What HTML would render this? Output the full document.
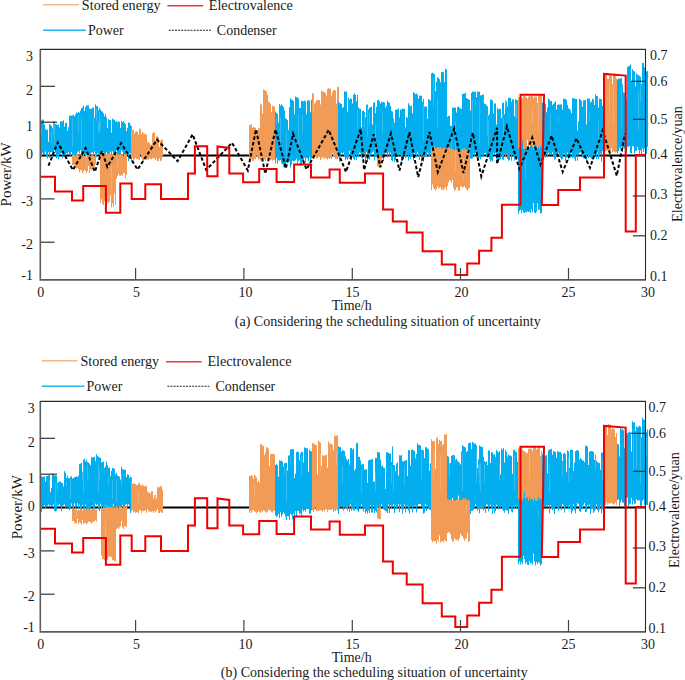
<!DOCTYPE html>
<html><head><meta charset="utf-8"><style>html,body{margin:0;padding:0;background:#fff;width:685px;height:680px;overflow:hidden}svg{display:block}text{fill:#1a1a1a}</style></head>
<body><svg width="685" height="680" viewBox="0 0 685 680">
<rect width="685" height="680" fill="#fff"/>
<path d="M40 155.5H646" stroke="#000" stroke-width="2"/>
<path d="M41.5 120.5V157.5M42.5 119.5V152.8M43.5 119.7V153.9M44.5 124.5V153.9M45.5 129.1V151.5M46.5 129.9V157.0M47.5 129.6V158.4M48.5 141.8V152.4M49.5 124.0V158.0M50.5 124.8V152.3M51.5 125.8V152.1M52.5 128.1V158.0M53.5 121.2V154.0M54.5 121.0V150.5M55.5 124.2V152.8M56.5 124.3V158.3M57.5 125.1V155.7M58.5 124.6V159.3M59.5 127.4V155.0M60.5 121.3V153.8M61.5 121.4V152.9M62.5 121.4V158.0M63.5 120.4V154.3M64.5 126.6V155.2M65.5 122.8V159.0M66.5 122.8V153.0M67.5 130.8V154.6M68.5 127.3V151.8M69.5 115.8V155.1M70.5 115.5V155.7M71.5 115.6V152.0M72.5 115.5V158.9M73.5 114.7V157.8M74.5 116.3V157.1M75.5 114.6V155.8M76.5 112.5V153.9M77.5 113.1V152.7M78.5 111.8V151.2M79.5 112.8V153.4M80.5 110.6V150.0M81.5 108.0V156.6M82.5 107.4V153.4M83.5 105.5V156.7M84.5 111.1V155.0M85.5 107.1V158.2M86.5 105.2V154.9M87.5 105.7V155.6M88.5 105.3V156.9M89.5 108.7V155.9M90.5 109.1V153.8M91.5 108.7V152.8M92.5 107.8V152.3M93.5 107.5V158.5M94.5 117.6V151.5M95.5 104.4V155.6M96.5 106.2V157.2M97.5 106.2V153.2M98.5 110.3V153.9M99.5 108.0V154.0M100.5 109.5V158.0M101.5 111.2V154.5M102.5 111.6V151.8M103.5 113.3V152.4M104.5 116.4V156.4M105.5 113.9V155.4M106.5 117.4V152.3M107.5 127.9V155.6M108.5 118.9V155.5M109.5 120.0V156.1M110.5 120.0V151.6M111.5 132.6V159.6M112.5 118.6V151.4M113.5 119.4V154.4M114.5 119.9V154.9M115.5 121.6V153.4M116.5 121.0V150.3M117.5 122.2V155.7M118.5 121.5V158.3M119.5 121.8V157.8M120.5 127.9V155.1M121.5 120.8V150.4M122.5 122.3V151.8M123.5 121.2V154.0M124.5 122.7V156.6M125.5 124.1V155.5M126.5 131.1V153.5M127.5 127.8V154.4M128.5 122.6V161.1M129.5 122.7V153.3M130.5 125.0V153.5M131.5 126.3V161.9" stroke="#02aeee" stroke-width="1" fill="none"/>
<path d="M41.5 128.8V135.9M51.5 131.2V143.6M53.5 122.1V135.1M54.5 123.9V145.1M72.5 119.0V146.6M78.5 114.9V133.3M81.5 118.3V149.7M93.5 117.1V148.0M96.5 109.0V121.2M98.5 121.9V131.6M99.5 111.8V133.9M100.5 121.4V129.6" stroke="#55c8f3" stroke-width="0.6" fill="none"/>
<path d="M72.5 155.2V165.3M73.5 154.6V165.1M74.5 154.8V165.2M75.5 155.5V166.4M76.5 154.6V168.6M77.5 154.6V167.9M78.5 155.2V169.2M79.5 155.4V172.4M80.5 155.6V170.2M81.5 156.1V169.9M82.5 155.7V173.0M83.5 155.7V171.5M84.5 156.2V169.8M85.5 156.0V170.8M86.5 154.9V172.9M87.5 154.6V171.1M88.5 156.0V165.9M89.5 155.7V173.1M90.5 156.7V169.0M91.5 155.2V170.6M92.5 155.1V169.3M93.5 155.7V167.8M94.5 156.6V167.1M95.5 153.6V164.2" stroke="#f29b57" stroke-width="1" fill="none"/>
<path d="M86.5 155.0V166.7M93.5 158.6V164.2" stroke="#f6bd8b" stroke-width="0.6" fill="none"/>
<path d="M100.5 153.8V202.8M101.5 153.9V199.3M102.5 154.9V203.8M103.5 154.6V205.3M104.5 154.0V201.1M105.5 154.3V204.1M106.5 154.3V205.5M107.5 153.8V202.5M108.5 153.8V203.4M109.5 154.1V201.6M110.5 154.1V195.2M111.5 154.6V207.5M112.5 154.1V203.5M113.5 153.8V206.8M114.5 154.4V193.5M115.5 154.6V204.9M116.5 154.0V178.8M117.5 154.4V176.1M118.5 154.5V173.8M119.5 154.9V175.6M120.5 154.2V175.9M121.5 154.5V175.1M122.5 154.5V175.9M123.5 155.7V172.9M124.5 154.1V173.5M125.5 154.0V178.3M126.5 154.0V174.9" stroke="#f29b57" stroke-width="1" fill="none"/>
<path d="M111.5 166.4V192.3M117.5 160.5V168.4" stroke="#f6bd8b" stroke-width="0.6" fill="none"/>
<path d="M131.5 129.1V159.1M132.5 129.7V158.1M133.5 129.4V160.6M134.5 133.8V159.2M135.5 131.6V157.8M136.5 131.2V159.3M137.5 131.8V158.5M138.5 134.7V159.3M139.5 128.5V160.1M140.5 129.4V154.3M141.5 134.1V158.1M142.5 132.1V160.1M143.5 133.3V161.0M144.5 133.8V158.4M145.5 134.6V159.2M146.5 134.3V158.2" stroke="#f29b57" stroke-width="1" fill="none"/>
<path d="M131.5 132.2V137.0" stroke="#f6bd8b" stroke-width="0.6" fill="none"/>
<path d="M146.5 141.7V159.8M147.5 142.1V159.3M148.5 142.2V160.1M149.5 143.1V158.1M150.5 144.9V158.8M151.5 144.6V159.5M152.5 133.5V158.3M153.5 132.2V158.3M154.5 132.4V158.1M155.5 140.2V160.3M156.5 136.2V158.2M157.5 136.3V161.0M158.5 137.0V161.2M159.5 146.9V158.6M160.5 140.8V161.1M161.5 139.6V160.5M162.5 139.8V156.2" stroke="#f29b57" stroke-width="1" fill="none"/>
<path d="M249.5 124.9V158.5M250.5 124.9V158.7M251.5 124.2V158.9M252.5 127.8V161.1M253.5 126.8V160.9M254.5 127.6V158.7M255.5 127.7V159.3M256.5 131.7V155.6M257.5 130.6V157.7M258.5 127.5V159.7M259.5 128.5V159.0M260.5 130.0V160.7" stroke="#f29b57" stroke-width="1" fill="none"/>
<path d="M260.5 103.5V158.3M261.5 104.6V156.3M262.5 113.9V160.7M263.5 89.5V159.8M264.5 90.1V159.7M265.5 90.6V161.1M266.5 91.4V158.0M267.5 94.7V160.4M268.5 101.7V159.0M269.5 102.6V158.8M270.5 103.6V160.2M271.5 111.8V159.5M272.5 105.7V160.7M273.5 106.0V159.8M274.5 106.7V160.0" stroke="#f29b57" stroke-width="1" fill="none"/>
<path d="M275.5 111.6V163.2M276.5 112.9V158.0M277.5 113.7V163.6M278.5 122.5V160.4M279.5 104.1V160.7M280.5 105.5V160.0M281.5 104.3V163.7M282.5 105.6V163.9M283.5 107.1V167.1M284.5 110.4V167.4M285.5 118.2V167.9M286.5 118.9V162.6M287.5 120.1V163.4M288.5 130.1V162.4M289.5 107.1V161.4M290.5 108.8V167.6" stroke="#02aeee" stroke-width="1" fill="none"/>
<path d="M276.5 119.2V124.5M280.5 116.9V147.8M286.5 131.1V158.5" stroke="#55c8f3" stroke-width="0.6" fill="none"/>
<path d="M290.5 98.3V165.0M291.5 99.4V164.8M292.5 100.1V160.6M293.5 100.9V161.3M294.5 114.3V161.2M295.5 96.6V160.3M296.5 97.3V158.7M297.5 97.4V164.2M298.5 98.4V160.9M299.5 107.9V159.9M300.5 107.8V165.9M301.5 100.7V164.7M302.5 101.0V161.0M303.5 101.4V163.1M304.5 100.4V157.8M305.5 101.5V162.4M306.5 114.2V157.8M307.5 100.4V158.8M308.5 100.3V161.0M309.5 100.6V157.3M310.5 112.2V163.0M311.5 99.8V158.2" stroke="#02aeee" stroke-width="1" fill="none"/>
<path d="M298.5 114.0V152.1M302.5 115.3V132.6" stroke="#55c8f3" stroke-width="0.6" fill="none"/>
<path d="M312.5 93.1V157.8M313.5 93.6V158.6M314.5 103.7V158.6M315.5 102.5V157.0M316.5 100.0V158.8M317.5 100.3V158.2M318.5 99.9V157.2M319.5 100.1V157.1M320.5 104.4V160.0M321.5 90.3V158.6M322.5 91.6V157.1M323.5 91.5V158.1M324.5 92.1V158.5M325.5 93.0V157.7M326.5 95.8V158.8M327.5 89.2V159.6M328.5 88.1V157.9M329.5 88.6V159.1M330.5 88.5V158.0M331.5 95.6V159.0M332.5 91.9V153.4M333.5 90.0V157.2M334.5 89.7V156.1M335.5 90.6V159.1M336.5 103.6V159.0M337.5 86.5V159.2M338.5 87.2V157.7" stroke="#f29b57" stroke-width="1" fill="none"/>
<path d="M313.5 102.7V112.3" stroke="#f6bd8b" stroke-width="0.6" fill="none"/>
<path d="M338.5 101.6V156.6M339.5 102.7V161.6M340.5 103.5V155.9M341.5 104.2V152.8M342.5 108.1V153.7M343.5 107.0V152.6M344.5 91.1V156.4M345.5 91.9V160.0M346.5 91.5V158.3M347.5 111.7V159.9M348.5 97.4V157.7M349.5 99.7V151.1M350.5 98.3V155.3M351.5 98.8V160.3M352.5 103.5V156.3M353.5 94.6V158.8M354.5 93.7V160.1M355.5 95.0V154.7M356.5 101.4V160.2M357.5 94.7V151.8" stroke="#02aeee" stroke-width="1" fill="none"/>
<path d="M357.5 108.4V153.8M358.5 107.4V156.6M359.5 108.7V152.6M360.5 108.9V153.2M361.5 127.4V157.6M362.5 111.0V158.7M363.5 110.7V153.6M364.5 112.1V154.2M365.5 117.1V161.0M366.5 104.6V152.1M367.5 104.6V161.9M368.5 109.5V158.8M369.5 107.5V159.6M370.5 107.4V156.8M371.5 106.4V153.4M372.5 124.5V152.4M373.5 102.9V151.4M374.5 102.1V160.7M375.5 113.1V156.5M376.5 106.8V156.5M377.5 106.2V156.8" stroke="#02aeee" stroke-width="1" fill="none"/>
<path d="M357.5 109.1V128.3M364.5 115.4V128.3M367.5 107.1V137.0M369.5 112.6V124.6M375.5 125.2V151.1" stroke="#55c8f3" stroke-width="0.6" fill="none"/>
<path d="M377.5 100.1V153.8M378.5 100.0V154.3M379.5 101.2V160.3M380.5 103.5V159.6M381.5 101.6V158.7M382.5 102.3V155.1M383.5 102.0V161.2M384.5 102.5V154.8M385.5 107.5V152.9M386.5 105.8V153.3M387.5 100.6V157.6M388.5 102.0V152.5M389.5 102.9V155.6M390.5 106.1V152.7M391.5 110.8V160.3M392.5 111.6V160.7" stroke="#02aeee" stroke-width="1" fill="none"/>
<path d="M382.5 113.2V133.7" stroke="#55c8f3" stroke-width="0.6" fill="none"/>
<path d="M392.5 118.9V161.4M393.5 118.5V154.4M394.5 122.6V161.8M395.5 109.6V160.2M396.5 109.8V153.4M397.5 109.3V154.5M398.5 108.6V155.6M399.5 117.4V153.8M400.5 109.5V155.3M401.5 109.5V161.4M402.5 108.4V160.8M403.5 109.0V152.8M404.5 108.7V154.7M405.5 127.4V158.2M406.5 116.9V156.3M407.5 117.9V155.1M408.5 118.2V157.9" stroke="#02aeee" stroke-width="1" fill="none"/>
<path d="M408.5 103.2V160.6M409.5 104.9V154.7M410.5 106.4V159.0M411.5 105.7V156.1M412.5 113.4V156.0M413.5 92.1V160.5M414.5 93.1V153.1M415.5 94.2V154.9M416.5 93.4V157.3M417.5 94.7V152.1M418.5 98.7V155.8M419.5 95.6V160.0M420.5 95.8V154.3M421.5 95.6V161.7M422.5 101.8V155.3M423.5 99.0V161.6M424.5 106.6V157.4M425.5 106.5V156.4M426.5 106.5V156.3M427.5 118.7V152.6M428.5 99.0V155.7M429.5 99.8V157.0M430.5 100.4V153.5" stroke="#02aeee" stroke-width="1" fill="none"/>
<path d="M423.5 103.8V141.4" stroke="#55c8f3" stroke-width="0.6" fill="none"/>
<path d="M431.5 73.4V161.0M432.5 72.6V152.2M433.5 73.5V152.1M434.5 74.0V157.1M435.5 91.1V154.9M436.5 81.6V158.2M437.5 77.4V153.7M438.5 77.7V155.5M439.5 79.2V150.5M440.5 82.4V155.4M441.5 72.0V151.4M442.5 72.2V154.1M443.5 72.2V154.0M444.5 82.1V156.0M445.5 68.6V154.9M446.5 69.7V154.1" stroke="#02aeee" stroke-width="1" fill="none"/>
<path d="M433.5 77.5V106.1M437.5 98.1V128.7" stroke="#55c8f3" stroke-width="0.6" fill="none"/>
<path d="M446.5 117.0V154.0M447.5 116.9V159.6M448.5 115.9V161.0M449.5 115.7V160.9M450.5 125.8V156.1M451.5 125.6V157.8M452.5 107.5V151.3M453.5 107.8V151.2M454.5 107.4V158.8M455.5 107.6V159.9M456.5 112.5V152.9M457.5 107.1V153.9M458.5 106.5V154.6M459.5 107.9V157.3M460.5 108.2V160.4M461.5 109.1V159.0M462.5 115.7V151.3" stroke="#02aeee" stroke-width="1" fill="none"/>
<path d="M451.5 133.8V152.0M455.5 121.9V151.2" stroke="#55c8f3" stroke-width="0.6" fill="none"/>
<path d="M462.5 94.0V159.8M463.5 93.8V161.5M464.5 93.6V153.7M465.5 92.8V154.4M466.5 98.2V153.7M467.5 98.7V158.4M468.5 99.1V156.9M469.5 100.0V152.1M470.5 110.6V158.4M471.5 92.9V159.1M472.5 91.4V158.3M473.5 91.8V153.5M474.5 91.7V156.1M475.5 91.7V152.1M476.5 97.2V151.5M477.5 91.5V155.1M478.5 91.9V156.5M479.5 91.5V157.6M480.5 95.4V159.5M481.5 95.3V154.6M482.5 94.7V156.9M483.5 94.5V155.6" stroke="#02aeee" stroke-width="1" fill="none"/>
<path d="M472.5 99.9V141.7M479.5 100.8V143.6M483.5 99.8V126.2" stroke="#55c8f3" stroke-width="0.6" fill="none"/>
<path d="M483.5 102.6V153.8M484.5 103.9V153.1M485.5 104.0V152.9M486.5 105.3V156.9M487.5 106.4V157.7M488.5 115.5V156.1M489.5 113.9V159.1M490.5 99.5V161.9M491.5 99.6V160.3M492.5 100.6V161.6M493.5 113.3V153.4M494.5 103.4V154.8M495.5 103.4V153.0M496.5 124.4V159.1M497.5 107.8V158.2M498.5 109.4V161.2M499.5 108.9V159.5M500.5 108.8V158.8M501.5 117.8V155.7M502.5 102.8V159.2M503.5 102.7V160.0M504.5 114.2V153.9M505.5 100.5V157.8M506.5 101.5V153.9M507.5 106.4V158.9M508.5 97.7V160.8M509.5 97.7V160.1M510.5 98.1V154.3M511.5 101.7V160.7M512.5 99.3V155.1M513.5 99.4V155.9M514.5 116.2V160.5M515.5 99.2V158.1M516.5 100.0V157.9M517.5 100.3V157.8" stroke="#02aeee" stroke-width="1" fill="none"/>
<path d="M487.5 114.3V136.4M488.5 120.9V145.9M502.5 113.0V120.4M503.5 118.6V145.9M505.5 100.9V108.7M515.5 105.0V116.7M516.5 103.0V119.5" stroke="#55c8f3" stroke-width="0.6" fill="none"/>
<path d="M377.5 155.0V166.1M378.5 155.3V166.9M379.5 155.5V167.1M380.5 155.3V166.2" stroke="#f29b57" stroke-width="1" fill="none"/>
<path d="M431.5 147.2V190.0M432.5 148.3V184.4M433.5 148.3V187.7M434.5 146.7V189.3M435.5 148.4V190.7M436.5 147.9V189.0M437.5 147.0V186.2M438.5 148.2V188.6M439.5 147.3V187.7M440.5 147.1V187.2M441.5 148.3V189.9M442.5 148.1V189.0M443.5 148.5V190.5M444.5 147.7V188.6M445.5 148.9V187.2M446.5 148.8V190.3M447.5 148.7V186.2M448.5 147.3V182.4M449.5 148.0V180.0M450.5 148.4V180.9M451.5 149.1V182.6M452.5 148.9V179.9M453.5 149.1V187.7M454.5 149.8V190.4M455.5 150.0V190.1M456.5 149.8V187.7M457.5 148.4V187.3M458.5 148.8V190.7M459.5 149.0V190.5M460.5 152.1V186.7M461.5 149.5V186.0M462.5 148.9V187.5M463.5 149.5V187.0M464.5 148.3V186.2M465.5 149.6V188.1M466.5 149.2V189.3M467.5 149.8V190.4M468.5 149.1V188.4M469.5 147.9V188.2" stroke="#f29b57" stroke-width="1" fill="none"/>
<path d="M455.5 150.3V171.3M463.5 158.3V181.5" stroke="#f6bd8b" stroke-width="0.6" fill="none"/>
<path d="M518.5 138.1V213.8M519.5 138.2V211.0M520.5 140.2V209.7M521.5 140.9V212.9M522.5 137.0V210.1M523.5 136.1V212.3M524.5 136.9V213.0M525.5 144.3V212.0M526.5 145.3V212.3M527.5 146.2V211.2M528.5 146.9V212.1M529.5 147.8V211.6M530.5 139.0V212.8M531.5 139.4V209.3M532.5 139.2V212.2M533.5 138.7V203.0M534.5 139.9V212.7M535.5 140.3V213.1M536.5 141.9V211.7M537.5 139.9V203.3M538.5 139.3V209.8M539.5 138.0V209.7M540.5 139.9V213.5M541.5 139.6V213.4" stroke="#02aeee" stroke-width="1" fill="none"/>
<path d="M525.5 158.8V179.3" stroke="#55c8f3" stroke-width="0.6" fill="none"/>
<path d="M518.5 97.1V148.4M519.5 97.1V146.6M520.5 97.1V146.8M521.5 99.2V149.3M522.5 97.9V140.6M523.5 96.0V149.0M524.5 95.9V149.3M525.5 96.7V147.5M526.5 96.9V148.6M527.5 98.9V139.9M528.5 96.6V148.7M529.5 96.1V145.4M530.5 96.4V145.4M531.5 96.0V145.3M532.5 95.6V147.3M533.5 98.1V149.8M534.5 96.4V145.7M535.5 96.7V145.0M536.5 96.6V146.3M537.5 102.8V149.1M538.5 95.3V147.0M539.5 94.7V149.1M540.5 94.6V145.3M541.5 95.2V147.2" stroke="#f29b57" stroke-width="1" fill="none"/>
<path d="M532.5 106.3V123.3M538.5 100.0V130.9" stroke="#f6bd8b" stroke-width="0.6" fill="none"/>
<path d="M542.5 102.8V152.0M543.5 102.1V159.4M544.5 102.5V156.2M545.5 104.0V157.7M546.5 112.2V154.2M547.5 107.4V157.1M548.5 98.6V152.7M549.5 99.5V154.1M550.5 101.0V155.0M551.5 101.1V155.2M552.5 105.2V152.3M553.5 103.9V157.1M554.5 102.5V159.7M555.5 101.3V158.9M556.5 109.7V156.0M557.5 104.9V153.4M558.5 104.3V153.0M559.5 104.6V156.1M560.5 104.4V157.8M561.5 104.4V159.7M562.5 109.6V158.9M563.5 98.8V153.7M564.5 98.7V153.6M565.5 99.0V161.4M566.5 100.0V157.9M567.5 104.9V152.7M568.5 108.3V159.5M569.5 108.7V157.9M570.5 110.4V157.8M571.5 113.2V152.5M572.5 98.1V158.3M573.5 98.3V155.8M574.5 98.4V158.7M575.5 99.0V161.0M576.5 99.0V155.0M577.5 130.4V160.8M578.5 121.2V155.0M579.5 98.6V152.8M580.5 99.6V152.3M581.5 100.8V153.9M582.5 106.9V157.4M583.5 100.3V158.3M584.5 100.1V155.9M585.5 99.9V153.7M586.5 124.4V160.8M587.5 98.5V155.2M588.5 98.7V158.1M589.5 98.4V155.9M590.5 102.4V157.7M591.5 101.4V158.8M592.5 98.7V159.5M593.5 99.4V159.5M594.5 105.0V157.1M595.5 94.3V155.0M596.5 96.0V158.9M597.5 96.1V152.6M598.5 107.6V158.9M599.5 98.5V155.8M600.5 99.0V153.5M601.5 99.2V161.5M602.5 105.8V151.3M603.5 101.6V161.2M604.5 100.9V153.7" stroke="#02aeee" stroke-width="1" fill="none"/>
<path d="M543.5 105.1V138.0M550.5 113.3V136.5M558.5 117.0V122.5M589.5 113.1V120.7M598.5 121.1V152.4" stroke="#55c8f3" stroke-width="0.6" fill="none"/>
<path d="M604.5 73.7V151.5M605.5 73.9V151.3M606.5 74.3V151.0M607.5 79.0V150.4M608.5 78.9V151.6M609.5 75.1V152.9M610.5 75.4V152.7M611.5 75.9V148.0M612.5 84.2V152.6M613.5 74.3V151.4M614.5 73.9V151.9M615.5 75.7V152.8M616.5 78.4V151.9" stroke="#f29b57" stroke-width="1" fill="none"/>
<path d="M609.5 81.6V110.6M613.5 86.6V122.9" stroke="#f6bd8b" stroke-width="0.6" fill="none"/>
<path d="M617.5 79.4V153.4M618.5 78.7V151.2M619.5 78.7V147.6M620.5 78.3V149.4M621.5 78.3V146.8M622.5 84.3V152.0M623.5 92.3V148.1M624.5 92.8V148.3M625.5 93.1V149.9M626.5 100.0V151.6M627.5 66.6V147.0M628.5 66.5V146.7M629.5 65.6V146.1M630.5 64.6V153.0M631.5 81.8V153.5M632.5 69.1V146.2M633.5 71.0V146.1M634.5 71.3V153.5M635.5 86.2V150.8M636.5 73.5V151.1M637.5 74.3V146.9M638.5 75.4V149.8M639.5 75.8V153.7M640.5 76.9V150.4M641.5 84.1V154.8M642.5 62.8V148.3M643.5 63.1V151.9M644.5 67.6V148.5M645.5 71.5V153.0M646.5 71.6V154.1M647.5 71.0V147.0" stroke="#02aeee" stroke-width="1" fill="none"/>
<path d="M621.5 86.3V129.5M638.5 91.3V129.8M640.5 84.4V102.4" stroke="#55c8f3" stroke-width="0.6" fill="none"/>
<path d="M48.5 165.6 L57.8 142.6 L72.9 170.0 L85.6 148.0 L94.8 171.8 L102.0 151.0 L107.3 166.9 L121.1 143.2 L137.6 169.5 L157.0 139.7 L177.6 161.2 L192.6 134.4 L206.2 169.9 L232.0 142.8 L247.8 170.5 L256.0 129.4 L265.3 173.6 L275.6 129.4 L285.9 168.5 L293.1 133.9 L306.5 169.5 L328.7 129.9 L346.0 172.0 L360.7 129.0 L364.1 170.0 L373.7 134.3 L380.3 167.3 L390.9 133.6 L399.5 170.5 L409.4 132.3 L418.2 177.1 L429.5 131.9 L437.8 172.0 L454.2 128.8 L463.5 173.0 L472.8 132.9 L481.3 176.4 L497.1 127.7 L497.1 163.9 L506.9 126.4 L519.4 169.1 L532.3 137.6 L540.4 164.5 L551.6 135.6 L562.7 171.8 L576.4 138.3 L590.0 167.8 L602.7 130.4 L616.8 175.7 L625.0 133.7" stroke="#000" stroke-width="2" fill="none" stroke-linejoin="miter" stroke-dasharray="3.5 2.2"/>
<path d="M40.0 176.7 L55.0 176.7 L55.0 191.4 L72.0 191.4 L72.0 200.4 L83.2 200.4 L83.2 186.0 L105.9 186.0 L105.9 212.7 L120.3 212.7 L120.3 183.5 L131.7 183.5 L131.7 198.9 L145.3 198.9 L145.3 184.3 L161.0 184.3 L161.0 198.9 L188.0 198.9 L188.0 173.6 L194.9 173.6 L194.9 146.3 L207.2 146.3 L207.2 176.3 L217.5 176.3 L217.5 146.5 L229.3 148.0 L229.3 173.6 L243.1 173.6 L243.1 182.3 L259.2 182.3 L259.2 168.9 L276.6 168.9 L276.6 181.9 L294.1 181.9 L294.1 164.4 L311.0 164.4 L311.0 177.6 L329.6 177.6 L329.6 169.4 L339.8 169.4 L339.8 182.8 L365.0 182.8 L365.0 173.6 L383.1 173.6 L383.1 209.5 L392.8 209.5 L392.8 221.6 L406.7 221.6 L406.7 232.5 L422.6 232.5 L422.6 251.2 L441.8 251.2 L441.8 264.5 L455.3 264.5 L455.3 275.0 L467.2 275.0 L467.2 263.5 L479.1 263.5 L479.1 250.8 L491.4 250.8 L491.4 237.7 L501.9 237.7 L501.9 204.7 L520.5 204.7 L520.5 94.8 L544.0 94.8 L541.8 205.0 L558.2 205.0 L558.2 190.1 L580.0 190.1 L580.0 177.6 L604.0 177.6 L604.0 73.9 L625.7 75.6 L625.7 231.5 L635.8 231.5 L635.8 154.9 L646.0 154.9" stroke="#f20000" stroke-width="2" fill="none" stroke-linejoin="miter"/>
<path d="M40.3 48.9V279.9H646" stroke="#5c5c5c" stroke-width="1.6" fill="none"/>
<path d="M40.3 49.4H645.5V279.9" stroke="#2a2a2a" stroke-width="1.1" fill="none"/>
<path d="M41 86.3h14" stroke="#333" stroke-width="1.2"/>
<path d="M41 122.2h16" stroke="#333" stroke-width="1.2"/>
<path d="M41 198.9h13.5" stroke="#333" stroke-width="1.2"/>
<path d="M41 242.2h13.5" stroke="#333" stroke-width="1.2"/>
<path d="M645.5 81.3h-14.5" stroke="#333" stroke-width="1.2"/>
<path d="M645.5 119.3h-12.5" stroke="#333" stroke-width="1.2"/>
<path d="M645.5 196h-12.7" stroke="#333" stroke-width="1.2"/>
<path d="M645.5 235.8h-12.5" stroke="#333" stroke-width="1.2"/>
<path d="M135.6 279.5v-11.5" stroke="#444" stroke-width="1.2"/>
<path d="M243.9 279.5v-11.5" stroke="#444" stroke-width="1.2"/>
<path d="M352.3 279.5v-11.5" stroke="#444" stroke-width="1.2"/>
<path d="M460.5 279.5v-11.5" stroke="#444" stroke-width="1.2"/>
<path d="M568.5 279.5v-11.5" stroke="#444" stroke-width="1.2"/>
<path d="M40 507.5H646" stroke="#000" stroke-width="2"/>
<path d="M41.5 475.9V511.9M42.5 477.1V507.1M43.5 476.7V506.5M44.5 476.5V504.9M45.5 481.6V508.6M46.5 476.0V506.6M47.5 476.0V505.8M48.5 475.4V504.6M49.5 474.8V505.7M50.5 492.1V505.4M51.5 487.9V506.2M52.5 473.2V506.3M53.5 475.1V504.5M54.5 475.3V511.2M55.5 475.5V511.4M56.5 475.6V510.7M57.5 482.9V505.4M58.5 482.0V505.5M59.5 481.6V504.0M60.5 481.5V506.6M61.5 482.7V511.2M62.5 483.2V506.0M63.5 486.3V505.2M64.5 471.1V504.5M65.5 472.7V508.5M66.5 477.7V506.4M67.5 475.4V507.6M68.5 478.0V507.3M69.5 478.3V510.1M70.5 476.7V508.7M71.5 476.4V503.5M72.5 478.6V507.6M73.5 478.1V511.1M74.5 477.2V503.3M75.5 476.9V509.0M76.5 476.5V506.5M77.5 477.1V503.4M78.5 475.6V508.9M79.5 464.2V504.7M80.5 463.6V510.7M81.5 462.6V510.6M82.5 471.8V504.8M83.5 459.6V507.4M84.5 458.7V509.1M85.5 461.4V504.7M86.5 459.7V510.1M87.5 462.1V509.8M88.5 462.6V508.1M89.5 463.5V510.5M90.5 465.2V508.5M91.5 457.1V506.5M92.5 457.7V505.5M93.5 456.9V512.0M94.5 456.8V509.8M95.5 461.1V503.7M96.5 454.0V505.3M97.5 456.3V504.4M98.5 456.5V509.4M99.5 457.6V511.1M100.5 457.9V503.7M101.5 462.4V509.0M102.5 461.9V507.0M103.5 461.7V509.1M104.5 467.9V508.0M105.5 466.4V505.3M106.5 461.6V511.6M107.5 464.9V511.6M108.5 467.6V509.3M109.5 467.7V511.3M110.5 475.8V509.8M111.5 470.8V507.2M112.5 467.9V511.8M113.5 468.2V504.2M114.5 468.8V509.4M115.5 474.2V506.3M116.5 472.7V510.9M117.5 475.3V508.8M118.5 476.0V506.0M119.5 476.7V509.8M120.5 479.6V509.2M121.5 466.8V506.5M122.5 469.1V504.8M123.5 469.6V509.9M124.5 470.0V508.8M125.5 469.7V504.9M126.5 477.0V503.9M127.5 474.3V507.5M128.5 474.8V504.2M129.5 477.8V506.7M130.5 476.5V512.9M131.5 477.4V505.2" stroke="#02aeee" stroke-width="1" fill="none"/>
<path d="M49.5 480.2V485.4M55.5 482.4V505.6M57.5 483.6V492.6M66.5 481.4V486.4M70.5 479.4V498.5M82.5 472.0V479.3M83.5 464.9V493.4M87.5 464.7V480.5M98.5 463.4V493.4M99.5 469.7V479.3M108.5 476.2V485.5M112.5 480.7V499.0M116.5 478.5V502.8M121.5 474.3V485.3M131.5 478.1V485.4" stroke="#55c8f3" stroke-width="0.6" fill="none"/>
<path d="M72.5 508.7V521.0M73.5 509.5V520.8M74.5 509.3V523.2M75.5 509.4V523.4M76.5 509.5V523.4M77.5 510.3V518.8M78.5 509.6V524.4M79.5 509.9V522.3M80.5 508.7V523.1M81.5 511.0V524.4M82.5 510.6V519.9M83.5 508.5V523.9M84.5 508.3V523.2M85.5 508.3V522.8M86.5 509.5V524.6M87.5 508.8V523.0M88.5 509.0V521.6M89.5 509.3V521.8M90.5 509.4V522.3M91.5 509.2V523.7M92.5 508.8V522.5M93.5 508.5V521.3M94.5 508.6V521.5M95.5 509.5V520.2M96.5 509.5V521.5" stroke="#f29b57" stroke-width="1" fill="none"/>
<path d="M76.5 512.0V516.7" stroke="#f6bd8b" stroke-width="0.6" fill="none"/>
<path d="M101.5 506.5V555.7M102.5 508.0V559.1M103.5 507.7V559.4M104.5 507.9V560.0M105.5 507.2V558.8M106.5 507.0V557.4M107.5 506.0V560.1M108.5 507.3V557.2M109.5 507.3V556.3M110.5 507.0V556.6M111.5 507.1V557.4M112.5 506.4V560.4M113.5 507.2V559.8M114.5 507.5V561.2M115.5 507.2V561.2M116.5 505.9V528.8M117.5 507.5V528.2M118.5 507.5V528.9M119.5 506.2V527.4M120.5 506.9V526.1M121.5 506.8V521.0M122.5 507.6V527.4M123.5 507.5V529.2M124.5 505.7V526.2M125.5 507.2V526.1M126.5 506.6V527.1" stroke="#f29b57" stroke-width="1" fill="none"/>
<path d="M105.5 520.7V541.6" stroke="#f6bd8b" stroke-width="0.6" fill="none"/>
<path d="M131.5 482.9V511.6M132.5 483.6V510.0M133.5 483.3V512.4M134.5 483.8V511.7M135.5 484.0V512.9M136.5 485.3V512.3M137.5 485.0V512.3M138.5 483.6V513.0M139.5 482.7V510.2M140.5 485.1V510.5M141.5 485.6V513.2M142.5 484.1V510.8M143.5 485.7V511.3M144.5 486.2V510.5M145.5 486.3V510.6M146.5 486.1V510.6" stroke="#f29b57" stroke-width="1" fill="none"/>
<path d="M138.5 491.9V503.7" stroke="#f6bd8b" stroke-width="0.6" fill="none"/>
<path d="M146.5 491.1V512.9M147.5 491.6V508.4M148.5 492.7V511.2M149.5 492.6V511.7M150.5 493.5V511.5M151.5 491.3V511.9M152.5 491.2V511.2M153.5 498.6V512.9M154.5 495.1V511.1M155.5 495.0V512.2M156.5 498.3V510.5M157.5 486.4V508.7M158.5 487.7V512.9M159.5 487.0V513.0M160.5 486.1V511.4M161.5 486.4V512.7M162.5 489.8V512.8" stroke="#f29b57" stroke-width="1" fill="none"/>
<path d="M155.5 496.0V500.6" stroke="#f6bd8b" stroke-width="0.6" fill="none"/>
<path d="M249.5 475.9V512.8M250.5 475.8V511.3M251.5 475.1V512.9M252.5 476.0V510.6M253.5 478.8V510.0M254.5 474.7V511.6M255.5 475.7V511.8M256.5 477.3V513.1M257.5 482.3V512.0M258.5 480.9V510.9M259.5 482.5V512.5M260.5 482.8V512.2" stroke="#f29b57" stroke-width="1" fill="none"/>
<path d="M254.5 483.6V496.7" stroke="#f6bd8b" stroke-width="0.6" fill="none"/>
<path d="M260.5 444.5V512.5M261.5 443.9V510.9M262.5 445.6V512.2M263.5 445.8V510.1M264.5 455.1V510.9M265.5 452.2V512.4M266.5 447.0V512.7M267.5 447.7V511.6M268.5 448.4V509.6M269.5 465.8V510.7M270.5 454.4V510.3M271.5 453.9V511.9M272.5 453.8V512.4M273.5 454.2V510.8M274.5 454.2V510.7" stroke="#f29b57" stroke-width="1" fill="none"/>
<path d="M275.5 465.1V515.4M276.5 464.1V517.2M277.5 465.3V516.1M278.5 476.7V514.0M279.5 460.3V518.1M280.5 460.9V512.2M281.5 460.5V516.7M282.5 461.8V514.6M283.5 466.6V512.0M284.5 463.3V513.8M285.5 462.9V516.6M286.5 462.9V519.8M287.5 470.4V516.1M288.5 455.6V516.3M289.5 455.2V519.9M290.5 455.4V513.7" stroke="#02aeee" stroke-width="1" fill="none"/>
<path d="M284.5 467.6V474.7M286.5 467.7V502.2" stroke="#55c8f3" stroke-width="0.6" fill="none"/>
<path d="M290.5 449.6V511.6M291.5 449.1V514.8M292.5 449.2V519.4M293.5 449.2V513.7M294.5 478.0V517.4M295.5 473.6V511.3M296.5 452.1V516.4M297.5 451.4V510.8M298.5 452.0V510.9M299.5 459.9V514.2M300.5 453.5V513.2M301.5 451.8V517.2M302.5 452.0V509.5M303.5 462.4V511.4M304.5 447.3V510.1M305.5 448.0V511.7M306.5 448.2V508.8M307.5 448.4V508.1M308.5 472.0V508.7M309.5 449.8V513.9M310.5 451.1V513.6M311.5 451.3V510.4" stroke="#02aeee" stroke-width="1" fill="none"/>
<path d="M290.5 455.7V463.0M301.5 456.2V475.8" stroke="#55c8f3" stroke-width="0.6" fill="none"/>
<path d="M312.5 442.8V510.2M313.5 443.5V511.8M314.5 444.0V509.9M315.5 445.1V507.7M316.5 445.3V511.3M317.5 474.6V510.5M318.5 440.4V511.1M319.5 441.8V510.4M320.5 442.8V510.2M321.5 466.0V510.4M322.5 455.3V511.8M323.5 455.6V510.1M324.5 455.6V511.4M325.5 455.3V509.6M326.5 454.8V508.3M327.5 467.8V512.1M328.5 441.4V509.5M329.5 443.5V510.1M330.5 443.3V509.8M331.5 444.2V509.5M332.5 445.1V509.4M333.5 450.3V512.2M334.5 435.3V510.3M335.5 436.2V511.4M336.5 435.7V509.4M337.5 435.3V510.8M338.5 446.0V511.3" stroke="#f29b57" stroke-width="1" fill="none"/>
<path d="M320.5 453.9V471.7M330.5 446.7V452.9M336.5 451.5V464.7" stroke="#f6bd8b" stroke-width="0.6" fill="none"/>
<path d="M338.5 446.6V513.8M339.5 447.2V508.9M340.5 447.2V506.1M341.5 451.5V507.4M342.5 449.9V506.8M343.5 450.5V510.6M344.5 451.1V507.3M345.5 456.1V508.2M346.5 458.8V508.0M347.5 460.5V510.6M348.5 458.9V506.3M349.5 464.5V512.3M350.5 448.1V504.3M351.5 448.0V510.8M352.5 449.7V508.7M353.5 448.3V510.5M354.5 470.5V510.4M355.5 468.8V505.7M356.5 443.4V509.5M357.5 442.7V510.2" stroke="#02aeee" stroke-width="1" fill="none"/>
<path d="M342.5 466.2V482.8" stroke="#55c8f3" stroke-width="0.6" fill="none"/>
<path d="M357.5 455.9V507.8M358.5 456.9V512.1M359.5 456.8V506.2M360.5 460.5V509.1M361.5 464.7V504.5M362.5 464.0V507.5M363.5 463.8V511.7M364.5 469.7V508.0M365.5 469.3V513.1M366.5 469.1V511.6M367.5 482.6V513.7M368.5 460.5V510.5M369.5 459.9V513.0M370.5 459.6V505.2M371.5 459.4V512.4M372.5 458.9V512.7M373.5 481.7V505.4M374.5 481.6V513.0M375.5 457.7V510.7M376.5 458.0V512.3M377.5 458.3V512.5" stroke="#02aeee" stroke-width="1" fill="none"/>
<path d="M361.5 469.9V492.8M375.5 473.2V491.0" stroke="#55c8f3" stroke-width="0.6" fill="none"/>
<path d="M377.5 451.8V504.0M378.5 452.3V506.4M379.5 452.5V511.5M380.5 459.5V511.5M381.5 466.2V504.2M382.5 465.4V507.1M383.5 467.6V509.3M384.5 467.9V510.2M385.5 488.8V510.8M386.5 452.0V511.6M387.5 452.3V513.1M388.5 453.0V504.5M389.5 453.6V513.0M390.5 453.6V505.2M391.5 461.9V508.3M392.5 446.4V505.9" stroke="#02aeee" stroke-width="1" fill="none"/>
<path d="M391.5 465.5V483.1" stroke="#55c8f3" stroke-width="0.6" fill="none"/>
<path d="M392.5 465.7V506.7M393.5 464.9V504.2M394.5 465.2V513.1M395.5 471.1V505.0M396.5 463.6V509.1M397.5 462.3V507.6M398.5 475.6V504.3M399.5 455.3V512.2M400.5 455.7V504.7M401.5 454.9V508.4M402.5 461.3V513.6M403.5 461.4V509.4M404.5 460.9V504.6M405.5 460.4V512.4M406.5 460.2V506.9M407.5 475.9V505.7M408.5 458.1V510.4" stroke="#02aeee" stroke-width="1" fill="none"/>
<path d="M393.5 472.2V491.8M404.5 466.5V485.5" stroke="#55c8f3" stroke-width="0.6" fill="none"/>
<path d="M408.5 450.2V506.4M409.5 450.1V513.4M410.5 465.8V506.7M411.5 449.7V507.1M412.5 449.6V512.4M413.5 450.3V505.7M414.5 451.0V506.1M415.5 458.2V505.5M416.5 454.0V512.5M417.5 443.2V507.0M418.5 444.9V504.1M419.5 445.3V504.1M420.5 445.3V504.0M421.5 449.9V506.5M422.5 449.8V509.0M423.5 450.5V513.7M424.5 458.2V512.9M425.5 446.9V504.2M426.5 447.4V511.0M427.5 448.4V505.5M428.5 449.3V508.0M429.5 470.8V509.7M430.5 463.3V510.0" stroke="#02aeee" stroke-width="1" fill="none"/>
<path d="M421.5 451.6V479.7" stroke="#55c8f3" stroke-width="0.6" fill="none"/>
<path d="M446.5 456.2V501.6M447.5 455.8V501.6M448.5 456.7V503.2M449.5 463.4V500.0M450.5 463.1V502.2M451.5 456.1V501.9M452.5 455.1V498.1M453.5 455.0V500.2M454.5 455.4V501.6M455.5 459.7V502.3M456.5 458.6V500.4M457.5 460.9V503.2M458.5 461.7V495.6M459.5 462.8V502.9M460.5 464.4V500.8M461.5 451.4V500.9M462.5 451.0V501.1M463.5 465.2V501.8" stroke="#02aeee" stroke-width="1" fill="none"/>
<path d="M449.5 464.0V477.3" stroke="#55c8f3" stroke-width="0.6" fill="none"/>
<path d="M462.5 445.2V507.3M463.5 446.2V504.4M464.5 446.8V508.6M465.5 447.4V512.4M466.5 452.0V505.5M467.5 450.8V504.5M468.5 443.3V513.0M469.5 443.0V509.2M470.5 442.3V513.8M471.5 449.0V511.1M472.5 441.9V510.8M473.5 442.6V510.0M474.5 443.8V507.7M475.5 443.4V504.2M476.5 445.4V507.1M477.5 467.9V510.8M478.5 459.4V508.4M479.5 445.4V513.3M480.5 446.3V508.5M481.5 446.9V508.0M482.5 446.9V508.4M483.5 456.7V507.6" stroke="#02aeee" stroke-width="1" fill="none"/>
<path d="M462.5 452.3V490.9M476.5 451.3V482.8M478.5 465.3V474.6M479.5 463.9V484.3M480.5 463.9V491.3" stroke="#55c8f3" stroke-width="0.6" fill="none"/>
<path d="M483.5 460.9V510.6M484.5 461.3V506.5M485.5 462.1V513.0M486.5 461.6V504.3M487.5 465.1V504.9M488.5 450.4V511.5M489.5 450.6V507.2M490.5 462.9V504.8M491.5 452.1V508.0M492.5 452.6V513.8M493.5 454.6V505.6M494.5 454.2V513.0M495.5 456.8V511.1M496.5 449.8V504.7M497.5 451.4V506.7M498.5 452.4V509.5M499.5 451.1V507.2M500.5 474.5V507.7M501.5 448.6V506.2M502.5 449.7V509.6M503.5 448.1V511.0M504.5 462.5V512.7M505.5 450.1V509.9M506.5 451.8V510.5M507.5 456.6V510.5M508.5 454.5V513.8M509.5 455.4V507.3M510.5 455.6V506.9M511.5 456.2V511.6M512.5 473.9V512.5M513.5 450.1V505.8M514.5 449.6V508.0M515.5 451.6V505.5M516.5 451.9V507.7M517.5 461.8V507.0" stroke="#02aeee" stroke-width="1" fill="none"/>
<path d="M484.5 464.2V481.8M499.5 462.7V481.2M514.5 454.8V490.9" stroke="#55c8f3" stroke-width="0.6" fill="none"/>
<path d="M431.5 439.1V539.9M432.5 441.0V542.3M433.5 440.9V540.8M434.5 441.4V541.3M435.5 468.7V541.3M436.5 438.1V543.6M437.5 437.3V539.7M438.5 443.8V541.8M439.5 439.9V535.4M440.5 441.2V542.7M441.5 441.1V541.4M442.5 445.4V541.2M443.5 443.9V542.7M444.5 434.2V539.9M445.5 435.0V540.7M446.5 434.1V541.6" stroke="#f29b57" stroke-width="1" fill="none"/>
<path d="M433.5 460.8V478.6M434.5 451.7V460.8M440.5 456.2V489.9" stroke="#f6bd8b" stroke-width="0.6" fill="none"/>
<path d="M446.5 499.7V535.5M447.5 499.2V532.9M448.5 499.6V532.4M449.5 499.8V532.2M450.5 499.7V534.3M451.5 500.3V539.2M452.5 500.2V541.6M453.5 499.9V541.3M454.5 500.1V538.2M455.5 500.9V539.6M456.5 500.8V540.1M457.5 499.3V539.6M458.5 499.3V540.8M459.5 499.7V538.2M460.5 500.0V533.7M461.5 499.9V535.5M462.5 498.6V536.2M463.5 498.4V538.7M464.5 498.6V540.9M465.5 498.6V538.5M466.5 498.3V538.6M467.5 500.8V532.7M468.5 499.6V542.4M469.5 500.4V541.2" stroke="#f29b57" stroke-width="1" fill="none"/>
<path d="M466.5 505.1V512.8" stroke="#f6bd8b" stroke-width="0.6" fill="none"/>
<path d="M377.5 506.6V518.7M378.5 507.6V518.7M379.5 507.1V519.5M380.5 507.0V519.1" stroke="#f29b57" stroke-width="1" fill="none"/>
<path d="M380.5 508.5V516.2" stroke="#f6bd8b" stroke-width="0.6" fill="none"/>
<path d="M518.5 489.6V564.3M519.5 489.6V561.6M520.5 490.0V564.4M521.5 489.5V562.0M522.5 490.8V564.3M523.5 489.1V555.7M524.5 491.2V559.1M525.5 491.4V563.6M526.5 491.9V562.4M527.5 492.0V564.8M528.5 490.8V565.2M529.5 489.9V561.2M530.5 491.6V563.5M531.5 492.3V563.1M532.5 493.7V564.6M533.5 489.9V553.6M534.5 489.2V561.6M535.5 489.9V565.3M536.5 489.5V562.0M537.5 490.8V564.1M538.5 488.9V562.3M539.5 489.6V562.7M540.5 491.5V565.5M541.5 493.8V564.0" stroke="#02aeee" stroke-width="1" fill="none"/>
<path d="M538.5 510.6V516.5" stroke="#55c8f3" stroke-width="0.6" fill="none"/>
<path d="M518.5 448.3V499.5M519.5 447.1V498.7M520.5 447.8V501.1M521.5 448.0V498.7M522.5 449.2V500.8M523.5 451.1V497.9M524.5 451.2V490.9M525.5 452.0V499.6M526.5 453.3V497.4M527.5 453.0V497.7M528.5 448.9V500.9M529.5 449.1V497.2M530.5 448.4V499.6M531.5 448.8V499.5M532.5 450.6V498.9M533.5 447.0V501.6M534.5 447.7V498.5M535.5 446.6V500.8M536.5 449.6V500.3M537.5 448.8V500.9M538.5 446.5V497.0M539.5 447.4V499.3M540.5 456.0V498.6M541.5 450.8V498.8" stroke="#f29b57" stroke-width="1" fill="none"/>
<path d="M529.5 452.6V479.0" stroke="#f6bd8b" stroke-width="0.6" fill="none"/>
<path d="M542.5 454.5V509.9M543.5 454.7V504.8M544.5 454.8V506.2M545.5 455.8V507.2M546.5 455.0V505.6M547.5 473.2V507.2M548.5 450.5V505.0M549.5 449.2V513.2M550.5 449.4V505.3M551.5 448.8V508.7M552.5 454.8V510.1M553.5 451.2V508.6M554.5 451.3V513.9M555.5 452.0V506.2M556.5 457.6V506.5M557.5 451.0V507.9M558.5 451.7V510.5M559.5 452.1V507.5M560.5 451.9V506.5M561.5 453.5V510.3M562.5 461.0V504.0M563.5 453.5V505.4M564.5 453.0V512.6M565.5 454.1V507.6M566.5 472.2V506.6M567.5 450.3V506.8M568.5 451.4V509.0M569.5 467.7V505.1M570.5 449.7V509.2M571.5 449.9V513.9M572.5 449.8V511.4M573.5 470.8V504.4M574.5 462.8V510.3M575.5 451.3V513.2M576.5 450.4V506.3M577.5 450.1V503.1M578.5 450.9V504.0M579.5 459.6V511.3M580.5 457.9V511.9M581.5 459.1V507.5M582.5 460.5V509.2M583.5 460.6V505.2M584.5 462.1V503.1M585.5 445.6V512.0M586.5 445.8V511.7M587.5 446.7V504.8M588.5 465.0V507.2M589.5 451.8V504.6M590.5 451.2V514.0M591.5 451.2V509.2M592.5 451.2V508.1M593.5 451.9V512.9M594.5 459.9V511.4M595.5 454.7V509.7M596.5 460.7V504.5M597.5 462.2V510.2M598.5 462.7V512.3M599.5 462.9V509.6M600.5 469.7V505.5M601.5 452.3V513.3M602.5 452.9V509.1M603.5 453.8V513.1M604.5 454.6V509.9" stroke="#02aeee" stroke-width="1" fill="none"/>
<path d="M549.5 463.5V493.2M562.5 461.5V476.6M568.5 456.6V481.6M595.5 456.3V470.5M602.5 458.0V480.2" stroke="#55c8f3" stroke-width="0.6" fill="none"/>
<path d="M604.5 424.8V501.9M605.5 425.0V504.9M606.5 426.4V502.5M607.5 435.2V504.8M608.5 424.3V503.2M609.5 424.5V503.8M610.5 424.7V503.2M611.5 429.5V502.6M612.5 428.4V504.0M613.5 428.7V504.7M614.5 429.1V503.7M615.5 437.0V502.5M616.5 433.2V504.8" stroke="#f29b57" stroke-width="1" fill="none"/>
<path d="M617.5 443.8V500.1M618.5 444.6V499.3M619.5 456.4V506.1M620.5 428.2V502.4M621.5 429.6V499.8M622.5 429.0V502.4M623.5 430.3V502.9M624.5 448.3V505.8M625.5 444.0V504.2M626.5 433.2V498.2M627.5 433.4V497.6M628.5 432.3V506.2M629.5 431.5V504.3M630.5 432.4V503.4M631.5 451.4V498.1M632.5 421.2V504.5M633.5 422.5V500.6M634.5 422.3V503.7M635.5 431.0V503.5M636.5 426.2V499.2M637.5 427.4V500.6M638.5 426.7V500.4M639.5 425.7V500.3M640.5 426.4V505.9M641.5 437.3V505.8M642.5 417.7V500.9M643.5 419.5V499.4M644.5 420.0V505.0M645.5 422.4V501.6M646.5 432.3V504.7M647.5 429.4V505.0" stroke="#02aeee" stroke-width="1" fill="none"/>
<path d="M626.5 442.8V455.5M633.5 429.3V473.3M636.5 430.7V469.2M640.5 432.2V482.7M646.5 437.4V455.4" stroke="#55c8f3" stroke-width="0.6" fill="none"/>
<path d="M40.0 528.7 L55.0 528.7 L55.0 543.4 L72.0 543.4 L72.0 552.4 L83.2 552.4 L83.2 538.0 L105.9 538.0 L105.9 564.7 L120.3 564.7 L120.3 535.5 L131.7 535.5 L131.7 550.9 L145.3 550.9 L145.3 536.3 L161.0 536.3 L161.0 550.9 L188.0 550.9 L188.0 525.6 L194.9 525.6 L194.9 498.3 L207.2 498.3 L207.2 528.3 L217.5 528.3 L217.5 498.5 L229.3 500.0 L229.3 525.6 L243.1 525.6 L243.1 534.3 L259.2 534.3 L259.2 520.9 L276.6 520.9 L276.6 533.9 L294.1 533.9 L294.1 516.4 L311.0 516.4 L311.0 529.6 L329.6 529.6 L329.6 521.4 L339.8 521.4 L339.8 534.8 L365.0 534.8 L365.0 525.6 L383.1 525.6 L383.1 561.5 L392.8 561.5 L392.8 573.6 L406.7 573.6 L406.7 584.5 L422.6 584.5 L422.6 603.2 L441.8 603.2 L441.8 616.5 L455.3 616.5 L455.3 627.0 L467.2 627.0 L467.2 615.5 L479.1 615.5 L479.1 602.8 L491.4 602.8 L491.4 589.7 L501.9 589.7 L501.9 556.7 L520.5 556.7 L520.5 446.8 L544.0 446.8 L541.8 557.0 L558.2 557.0 L558.2 542.1 L580.0 542.1 L580.0 529.6 L604.0 529.6 L604.0 425.9 L625.7 427.6 L625.7 583.5 L635.8 583.5 L635.8 506.9 L646.0 506.9" stroke="#f20000" stroke-width="2" fill="none" stroke-linejoin="miter"/>
<path d="M40.3 400.9V631.9H646" stroke="#5c5c5c" stroke-width="1.6" fill="none"/>
<path d="M40.3 401.4H645.5V631.9" stroke="#2a2a2a" stroke-width="1.1" fill="none"/>
<path d="M41 438.3h14" stroke="#333" stroke-width="1.2"/>
<path d="M41 474.2h16" stroke="#333" stroke-width="1.2"/>
<path d="M41 550.9h13.5" stroke="#333" stroke-width="1.2"/>
<path d="M41 594.2h13.5" stroke="#333" stroke-width="1.2"/>
<path d="M645.5 433.3h-14.5" stroke="#333" stroke-width="1.2"/>
<path d="M645.5 471.3h-12.5" stroke="#333" stroke-width="1.2"/>
<path d="M645.5 548h-12.7" stroke="#333" stroke-width="1.2"/>
<path d="M645.5 587.8h-12.5" stroke="#333" stroke-width="1.2"/>
<path d="M135.6 631.5v-11.5" stroke="#444" stroke-width="1.2"/>
<path d="M243.9 631.5v-11.5" stroke="#444" stroke-width="1.2"/>
<path d="M352.3 631.5v-11.5" stroke="#444" stroke-width="1.2"/>
<path d="M460.5 631.5v-11.5" stroke="#444" stroke-width="1.2"/>
<path d="M568.5 631.5v-11.5" stroke="#444" stroke-width="1.2"/>
<path d="M43.1 4.8H78.9" stroke="#f5b888" stroke-width="1.6"/>
<path d="M167.4 5.7H203.1" stroke="#ee3b3b" stroke-width="1.6"/>
<path d="M43.1 30.2H85.8" stroke="#27b4ec" stroke-width="1.6"/>
<path d="M168.8 30.2H210.9" stroke="#222" stroke-width="1.1" stroke-dasharray="2 1.1"/>
<text transform="translate(81.82,10) scale(0.945,1)" font-size="15" font-family="Liberation Serif" text-anchor="start">Stored energy</text>
<text transform="translate(208.78,10.2) scale(0.945,1)" font-size="15" font-family="Liberation Serif" text-anchor="start">Electrovalence</text>
<text transform="translate(87.98,35) scale(0.933,1)" font-size="15" font-family="Liberation Serif" text-anchor="start">Power</text>
<text transform="translate(216.84,34.8) scale(0.933,1)" font-size="15" font-family="Liberation Serif" text-anchor="start">Condenser</text>
<text transform="translate(33,61) scale(0.933,1)" font-size="15" font-family="Liberation Serif" text-anchor="end">3</text>
<text transform="translate(33,94.8) scale(0.933,1)" font-size="15" font-family="Liberation Serif" text-anchor="end">2</text>
<text transform="translate(33,130.6) scale(0.933,1)" font-size="15" font-family="Liberation Serif" text-anchor="end">1</text>
<text transform="translate(33,159.3) scale(0.933,1)" font-size="15" font-family="Liberation Serif" text-anchor="end">0</text>
<text transform="translate(33,206) scale(0.933,1)" font-size="15" font-family="Liberation Serif" text-anchor="end">-3</text>
<text transform="translate(33,248.5) scale(0.933,1)" font-size="15" font-family="Liberation Serif" text-anchor="end">-2</text>
<text transform="translate(33,280.3) scale(0.933,1)" font-size="15" font-family="Liberation Serif" text-anchor="end">-1</text>
<text transform="translate(649.94,59.8) scale(0.933,1)" font-size="15" font-family="Liberation Serif" text-anchor="start">0.7</text>
<text transform="translate(649.94,86) scale(0.933,1)" font-size="15" font-family="Liberation Serif" text-anchor="start">0.6</text>
<text transform="translate(649.94,123.5) scale(0.933,1)" font-size="15" font-family="Liberation Serif" text-anchor="start">0.5</text>
<text transform="translate(649.94,159.3) scale(0.933,1)" font-size="15" font-family="Liberation Serif" text-anchor="start">0.4</text>
<text transform="translate(649.94,199) scale(0.933,1)" font-size="15" font-family="Liberation Serif" text-anchor="start">0.3</text>
<text transform="translate(649.94,239.5) scale(0.933,1)" font-size="15" font-family="Liberation Serif" text-anchor="start">0.2</text>
<text transform="translate(649.94,281) scale(0.933,1)" font-size="15" font-family="Liberation Serif" text-anchor="start">0.1</text>
<text transform="translate(40.8,297) scale(0.933,1)" font-size="15" font-family="Liberation Serif" text-anchor="middle">0</text>
<text transform="translate(136.6,297) scale(0.933,1)" font-size="15" font-family="Liberation Serif" text-anchor="middle">5</text>
<text transform="translate(245.6,297) scale(0.933,1)" font-size="15" font-family="Liberation Serif" text-anchor="middle">10</text>
<text transform="translate(352.4,297) scale(0.933,1)" font-size="15" font-family="Liberation Serif" text-anchor="middle">15</text>
<text transform="translate(461.5,297) scale(0.933,1)" font-size="15" font-family="Liberation Serif" text-anchor="middle">20</text>
<text transform="translate(568.5,297) scale(0.933,1)" font-size="15" font-family="Liberation Serif" text-anchor="middle">25</text>
<text transform="translate(648,297) scale(0.933,1)" font-size="15" font-family="Liberation Serif" text-anchor="middle">30</text>
<text transform="translate(351.7,309.8) scale(0.933,1)" font-size="15" font-family="Liberation Serif" text-anchor="middle">Time/h</text>
<text transform="translate(234.74,325.8) scale(0.935,1)" font-size="15" font-family="Liberation Serif" text-anchor="start">(a) Considering the scheduling situation of uncertainty</text>
<text transform="translate(11,174.3) rotate(-90) scale(1,1.0)" font-size="15" font-family="Liberation Serif" text-anchor="middle">Power/kW</text>
<text transform="translate(682.3,164) rotate(-90) scale(1,0.98)" font-size="14.2" font-family="Liberation Serif" text-anchor="middle">Electrovalence/yuan</text>
<path d="M41.7 360.8H77.5" stroke="#f5b888" stroke-width="1.6"/>
<path d="M166.0 361.7H201.7" stroke="#ee3b3b" stroke-width="1.6"/>
<path d="M41.7 386.2H84.39999999999999" stroke="#27b4ec" stroke-width="1.6"/>
<path d="M167.4 386.2H209.5" stroke="#222" stroke-width="1.1" stroke-dasharray="2 1.1"/>
<text transform="translate(80.41999999999999,366) scale(0.945,1)" font-size="15" font-family="Liberation Serif" text-anchor="start">Stored energy</text>
<text transform="translate(207.38,366.2) scale(0.945,1)" font-size="15" font-family="Liberation Serif" text-anchor="start">Electrovalence</text>
<text transform="translate(86.58,391) scale(0.933,1)" font-size="15" font-family="Liberation Serif" text-anchor="start">Power</text>
<text transform="translate(215.44,390.8) scale(0.933,1)" font-size="15" font-family="Liberation Serif" text-anchor="start">Condenser</text>
<text transform="translate(34.8,413) scale(0.933,1)" font-size="15" font-family="Liberation Serif" text-anchor="end">3</text>
<text transform="translate(34.8,446.8) scale(0.933,1)" font-size="15" font-family="Liberation Serif" text-anchor="end">2</text>
<text transform="translate(34.8,482.6) scale(0.933,1)" font-size="15" font-family="Liberation Serif" text-anchor="end">1</text>
<text transform="translate(34.8,511.3) scale(0.933,1)" font-size="15" font-family="Liberation Serif" text-anchor="end">0</text>
<text transform="translate(34.8,558) scale(0.933,1)" font-size="15" font-family="Liberation Serif" text-anchor="end">-3</text>
<text transform="translate(34.8,600.5) scale(0.933,1)" font-size="15" font-family="Liberation Serif" text-anchor="end">-2</text>
<text transform="translate(34.8,632.3) scale(0.933,1)" font-size="15" font-family="Liberation Serif" text-anchor="end">-1</text>
<text transform="translate(648.44,411.8) scale(0.933,1)" font-size="15" font-family="Liberation Serif" text-anchor="start">0.7</text>
<text transform="translate(648.44,438) scale(0.933,1)" font-size="15" font-family="Liberation Serif" text-anchor="start">0.6</text>
<text transform="translate(648.44,475.5) scale(0.933,1)" font-size="15" font-family="Liberation Serif" text-anchor="start">0.5</text>
<text transform="translate(648.44,511.3) scale(0.933,1)" font-size="15" font-family="Liberation Serif" text-anchor="start">0.4</text>
<text transform="translate(648.44,551) scale(0.933,1)" font-size="15" font-family="Liberation Serif" text-anchor="start">0.3</text>
<text transform="translate(648.44,591.5) scale(0.933,1)" font-size="15" font-family="Liberation Serif" text-anchor="start">0.2</text>
<text transform="translate(648.44,633) scale(0.933,1)" font-size="15" font-family="Liberation Serif" text-anchor="start">0.1</text>
<text transform="translate(40.8,649) scale(0.933,1)" font-size="15" font-family="Liberation Serif" text-anchor="middle">0</text>
<text transform="translate(136.6,649) scale(0.933,1)" font-size="15" font-family="Liberation Serif" text-anchor="middle">5</text>
<text transform="translate(245.6,649) scale(0.933,1)" font-size="15" font-family="Liberation Serif" text-anchor="middle">10</text>
<text transform="translate(352.4,649) scale(0.933,1)" font-size="15" font-family="Liberation Serif" text-anchor="middle">15</text>
<text transform="translate(461.5,649) scale(0.933,1)" font-size="15" font-family="Liberation Serif" text-anchor="middle">20</text>
<text transform="translate(568.5,649) scale(0.933,1)" font-size="15" font-family="Liberation Serif" text-anchor="middle">25</text>
<text transform="translate(648,649) scale(0.933,1)" font-size="15" font-family="Liberation Serif" text-anchor="middle">30</text>
<text transform="translate(351.7,661.8) scale(0.933,1)" font-size="15" font-family="Liberation Serif" text-anchor="middle">Time/h</text>
<text transform="translate(220.84,676.8) scale(0.935,1)" font-size="15" font-family="Liberation Serif" text-anchor="start">(b) Considering the scheduling situation of uncertainty</text>
<text transform="translate(22.4,507.2) rotate(-90) scale(1,1.0)" font-size="15" font-family="Liberation Serif" text-anchor="middle">Power/kW</text>
<text transform="translate(678.6999999999999,510) rotate(-90) scale(1,0.98)" font-size="14.2" font-family="Liberation Serif" text-anchor="middle">Electrovalence/yuan</text>
</svg></body></html>
